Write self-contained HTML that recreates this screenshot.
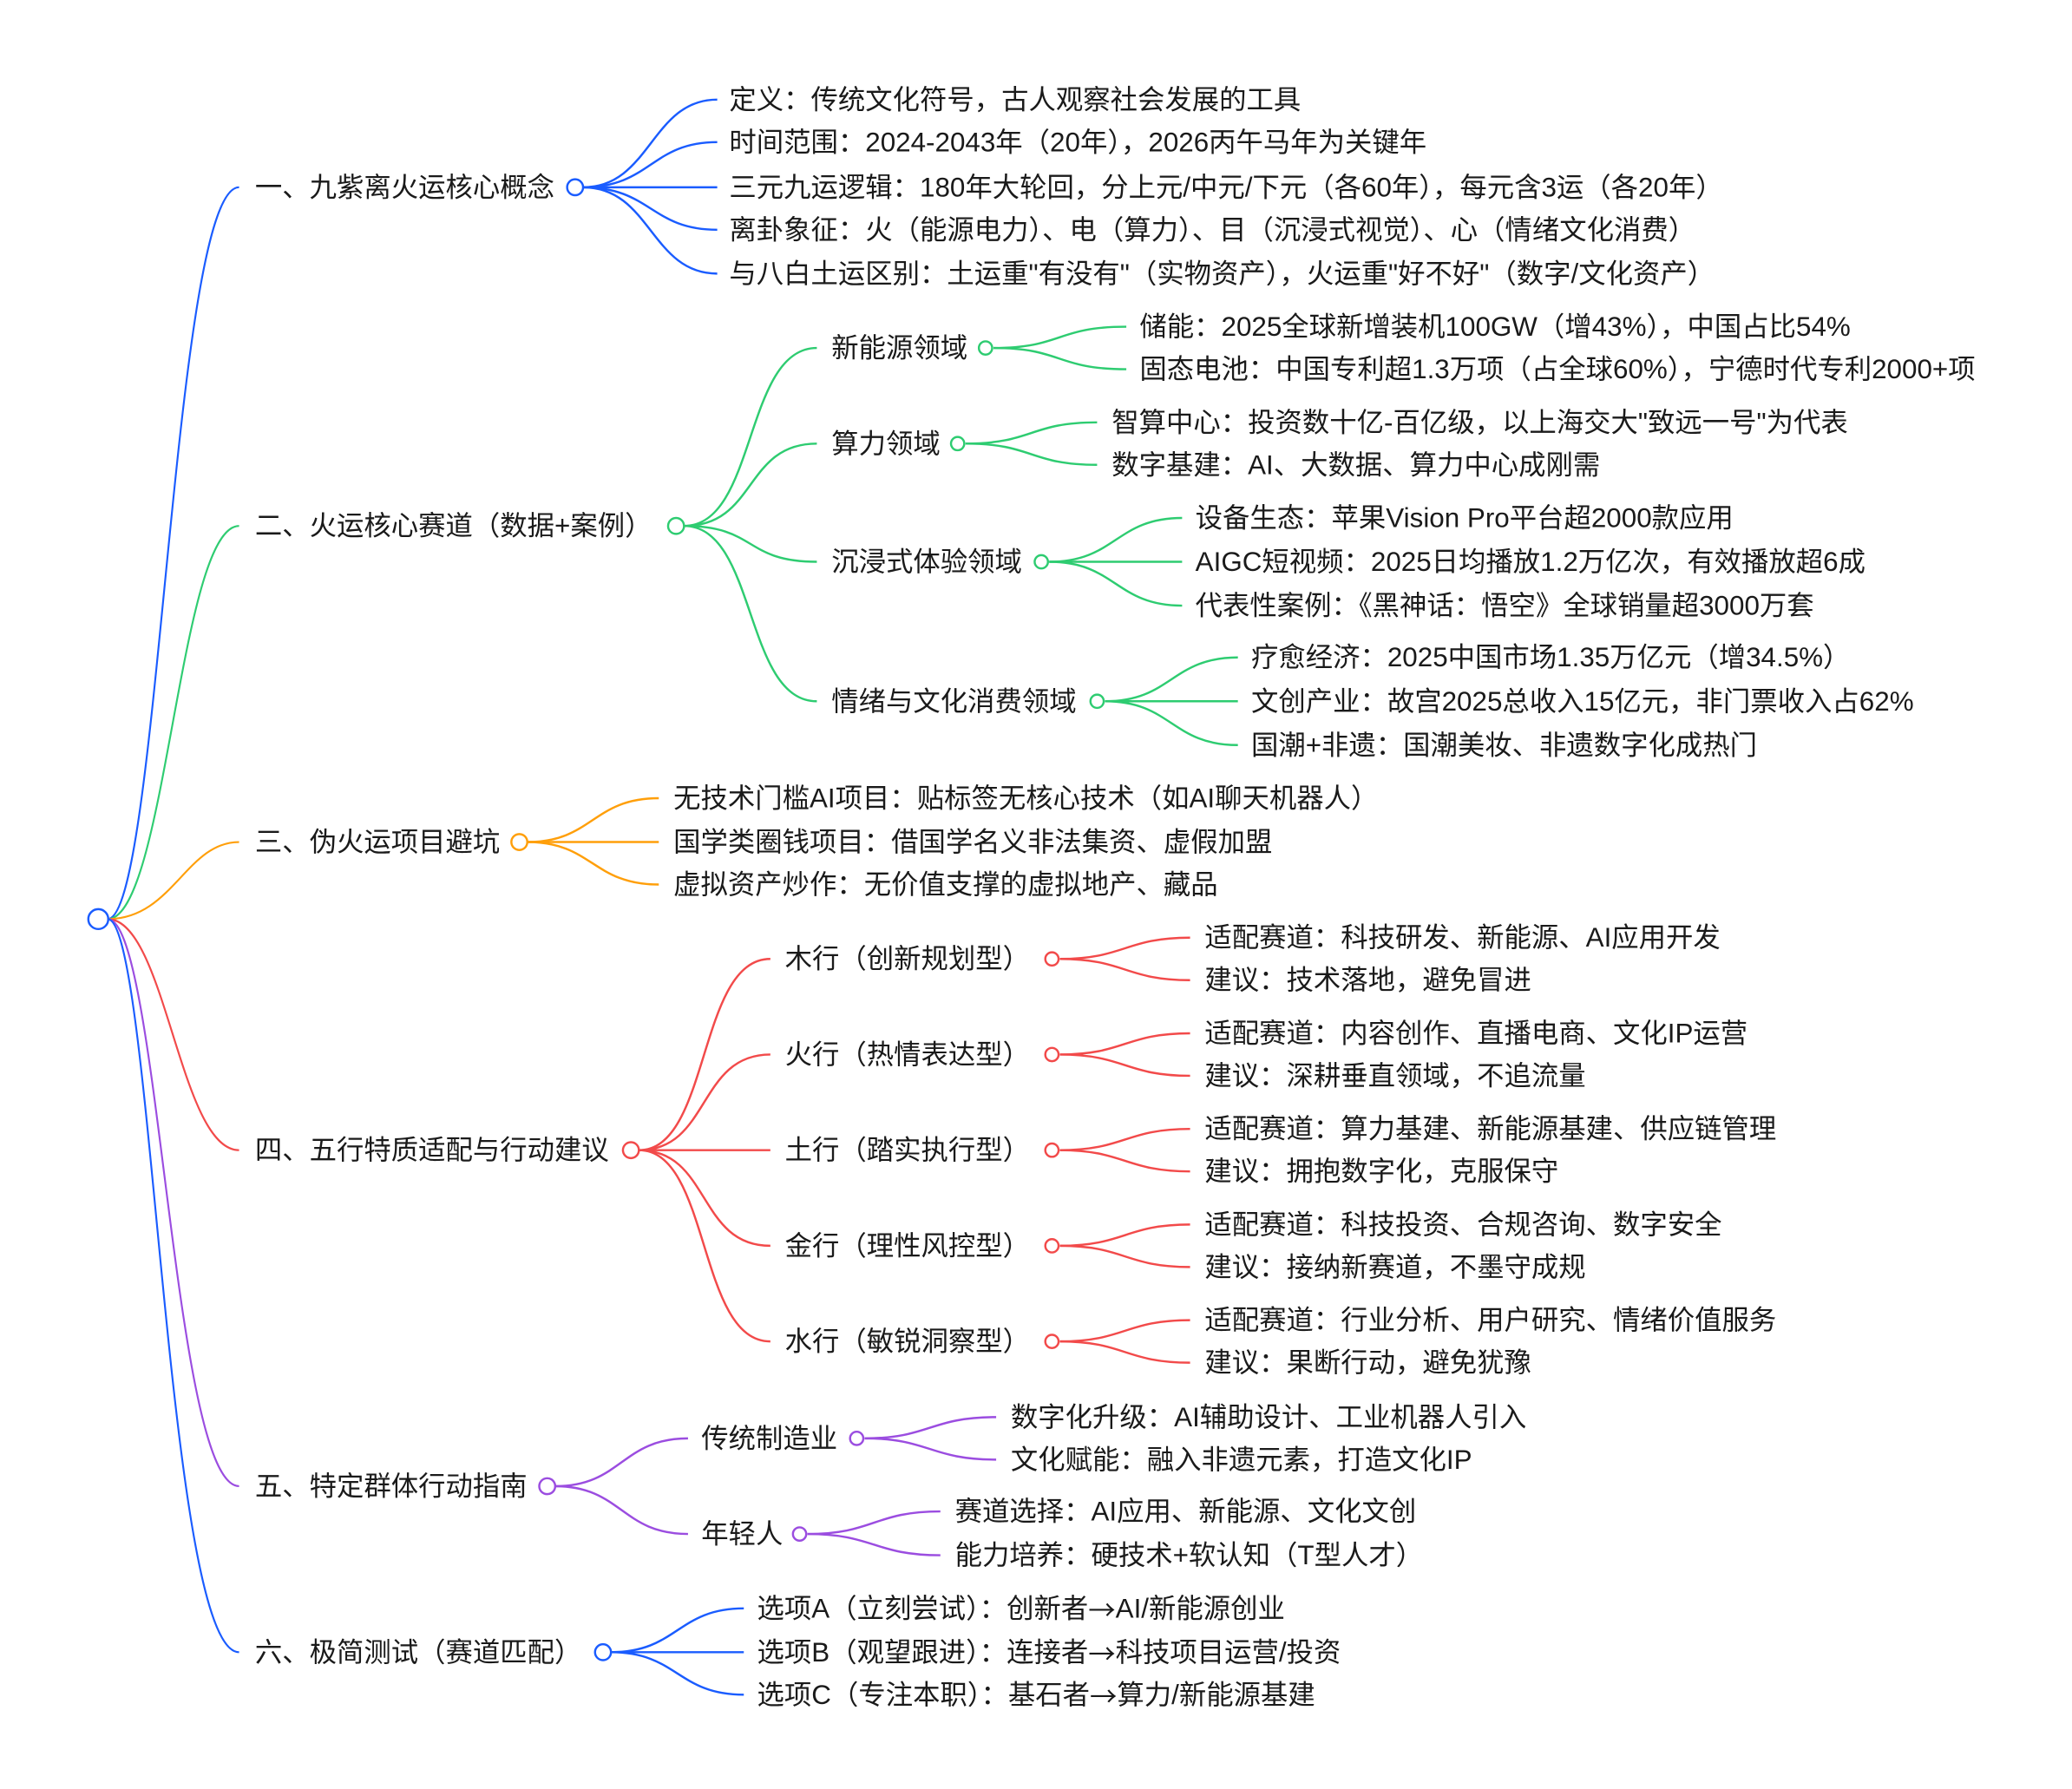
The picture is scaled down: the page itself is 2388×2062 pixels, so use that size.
<!DOCTYPE html>
<html><head><meta charset="utf-8"><style>
html,body{margin:0;padding:0;background:#fff;}
svg{display:block}
text{font-family:"Liberation Sans","Noto Sans CJK SC",sans-serif;font-size:20.5px;fill:#1a1a1a;dominant-baseline:central}
.ar{font-family:"Noto Sans CJK SC",sans-serif}
path{fill:none}
circle{fill:#fff;stroke-width:1.6}
</style></head><body>
<svg width="2388" height="2062" viewBox="0 0 1560 1347" preserveAspectRatio="none" xmlns="http://www.w3.org/2000/svg">
<rect width="1560" height="1347" fill="#fff"/>
<g stroke-width="1.4">
<path stroke="#1a5cff" d="M81,692 C120,692 130,141 180,141"/>
<path stroke="#2ecc71" d="M81,692 C125,692 135,396 180,396"/>
<path stroke="#ff9f0a" d="M81,692 C130,692 140,634 180,634"/>
<path stroke="#f24a4a" d="M81,692 C125,692 135,866 180,866"/>
<path stroke="#9b4de0" d="M81,692 C120,692 130,1119 180,1119"/>
<path stroke="#1a5cff" d="M81,692 C115,692 125,1244 180,1244"/>
</g>
<circle cx="74" cy="692" r="7.5" stroke="#1a5cff" stroke-width="2"/>

<g stroke="#1a5cff" stroke-width="1.6">
<path d="M439,141 C490,141 490,75 540,75"/>
<path d="M439,141 C490,141 490,107 540,107"/>
<path d="M439,141 L540,141"/>
<path d="M439,141 C490,141 490,173 540,173"/>
<path d="M439,141 C490,141 490,206 540,206"/>
</g>
<circle cx="433" cy="141" r="6" stroke="#1a5cff"/>
<text x="192" y="141">一、九紫离火运核心概念</text>
<text x="549" y="75">定义：传统文化符号，古人观察社会发展的工具</text>
<text x="549" y="107">时间范围：2024-2043年（20年），2026丙午马年为关键年</text>
<text x="549" y="141">三元九运逻辑：180年大轮回，分上元/中元/下元（各60年），每元含3运（各20年）</text>
<text x="549" y="173">离卦象征：火（能源电力）、电（算力）、目（沉浸式视觉）、心（情绪文化消费）</text>
<text x="549" y="206">与八白土运区别：土运重"有没有"（实物资产），火运重"好不好"（数字/文化资产）</text>

<g stroke="#2ecc71" stroke-width="1.6">
<path d="M515,396 C570,396 560,262 615,262"/>
<path d="M515,396 C570,396 560,334 615,334"/>
<path d="M515,396 C570,396 560,423 615,423"/>
<path d="M515,396 C570,396 560,528 615,528"/>
<path d="M748,262 C800,262 795,246 848,246"/>
<path d="M748,262 C800,262 795,278 848,278"/>
<path d="M727,334 C778,334 775,318 826,318"/>
<path d="M727,334 C778,334 775,350 826,350"/>
<path d="M790,423 C840,423 840,390 890,390"/>
<path d="M790,423 L890,423"/>
<path d="M790,423 C840,423 840,456 890,456"/>
<path d="M832,528 C882,528 882,495 932,495"/>
<path d="M832,528 L932,528"/>
<path d="M832,528 C882,528 882,561 932,561"/>
</g>
<circle cx="509" cy="396" r="6" stroke="#2ecc71"/>
<circle cx="742" cy="262" r="5" stroke="#2ecc71"/>
<circle cx="721" cy="334" r="5" stroke="#2ecc71"/>
<circle cx="784" cy="423" r="5" stroke="#2ecc71"/>
<circle cx="826" cy="528" r="5" stroke="#2ecc71"/>
<text x="192" y="396">二、火运核心赛道（数据+案例）</text>
<text x="626" y="262">新能源领域</text>
<text x="626" y="334">算力领域</text>
<text x="626" y="423">沉浸式体验领域</text>
<text x="626" y="528">情绪与文化消费领域</text>
<text x="858" y="246">储能：2025全球新增装机100GW（增43%），中国占比54%</text>
<text x="858" y="278">固态电池：中国专利超1.3万项（占全球60%），宁德时代专利2000+项</text>
<text x="837" y="318">智算中心：投资数十亿-百亿级，以上海交大"致远一号"为代表</text>
<text x="837" y="350">数字基建：AI、大数据、算力中心成刚需</text>
<text x="900" y="390">设备生态：苹果Vision Pro平台超2000款应用</text>
<text x="900" y="423">AIGC短视频：2025日均播放1.2万亿次，有效播放超6成</text>
<text x="900" y="456">代表性案例：《黑神话：悟空》全球销量超3000万套</text>
<text x="942" y="495">疗愈经济：2025中国市场1.35万亿元（增34.5%）</text>
<text x="942" y="528">文创产业：故宫2025总收入15亿元，非门票收入占62%</text>
<text x="942" y="561">国潮+非遗：国潮美妆、非遗数字化成热门</text>

<g stroke="#ff9f0a" stroke-width="1.6">
<path d="M397,634 C446,634 446,601 496,601"/>
<path d="M397,634 L496,634"/>
<path d="M397,634 C446,634 446,666 496,666"/>
</g>
<circle cx="391" cy="634" r="6" stroke="#ff9f0a"/>
<text x="192" y="634">三、伪火运项目避坑</text>
<text x="507" y="601">无技术门槛AI项目：贴标签无核心技术（如AI聊天机器人）</text>
<text x="507" y="634">国学类圈钱项目：借国学名义非法集资、虚假加盟</text>
<text x="507" y="666">虚拟资产炒作：无价值支撑的虚拟地产、藏品</text>

<g stroke="#f24a4a" stroke-width="1.6">
<path d="M481,866 C535,866 525,722 580,722"/>
<path d="M481,866 C535,866 525,794 580,794"/>
<path d="M481,866 L580,866"/>
<path d="M481,866 C535,866 525,938 580,938"/>
<path d="M481,866 C535,866 525,1010 580,1010"/>
<path d="M798,722 C847,722 847,706 896,706"/><path d="M798,722 C847,722 847,738 896,738"/>
<path d="M798,794 C847,794 847,778 896,778"/><path d="M798,794 C847,794 847,810 896,810"/>
<path d="M798,866 C847,866 847,850 896,850"/><path d="M798,866 C847,866 847,882 896,882"/>
<path d="M798,938 C847,938 847,922 896,922"/><path d="M798,938 C847,938 847,954 896,954"/>
<path d="M798,1010 C847,1010 847,994 896,994"/><path d="M798,1010 C847,1010 847,1026 896,1026"/>
</g>
<circle cx="475" cy="866" r="6" stroke="#f24a4a"/>
<circle cx="792" cy="722" r="5" stroke="#f24a4a"/>
<circle cx="792" cy="794" r="5" stroke="#f24a4a"/>
<circle cx="792" cy="866" r="5" stroke="#f24a4a"/>
<circle cx="792" cy="938" r="5" stroke="#f24a4a"/>
<circle cx="792" cy="1010" r="5" stroke="#f24a4a"/>
<text x="192" y="866">四、五行特质适配与行动建议</text>
<text x="591" y="722">木行（创新规划型）</text>
<text x="591" y="794">火行（热情表达型）</text>
<text x="591" y="866">土行（踏实执行型）</text>
<text x="591" y="938">金行（理性风控型）</text>
<text x="591" y="1010">水行（敏锐洞察型）</text>
<text x="907" y="706">适配赛道：科技研发、新能源、AI应用开发</text>
<text x="907" y="738">建议：技术落地，避免冒进</text>
<text x="907" y="778">适配赛道：内容创作、直播电商、文化IP运营</text>
<text x="907" y="810">建议：深耕垂直领域，不追流量</text>
<text x="907" y="850">适配赛道：算力基建、新能源基建、供应链管理</text>
<text x="907" y="882">建议：拥抱数字化，克服保守</text>
<text x="907" y="922">适配赛道：科技投资、合规咨询、数字安全</text>
<text x="907" y="954">建议：接纳新赛道，不墨守成规</text>
<text x="907" y="994">适配赛道：行业分析、用户研究、情绪价值服务</text>
<text x="907" y="1026">建议：果断行动，避免犹豫</text>

<g stroke="#9b4de0" stroke-width="1.6">
<path d="M418,1119 C468,1119 468,1083 518,1083"/>
<path d="M418,1119 C468,1119 468,1155 518,1155"/>
<path d="M651,1083 C700,1083 700,1067 750,1067"/>
<path d="M651,1083 C700,1083 700,1099 750,1099"/>
<path d="M608,1155 C658,1155 658,1138 708,1138"/>
<path d="M608,1155 C658,1155 658,1171 708,1171"/>
</g>
<circle cx="412" cy="1119" r="6" stroke="#9b4de0"/>
<circle cx="645" cy="1083" r="5" stroke="#9b4de0"/>
<circle cx="602" cy="1155" r="5" stroke="#9b4de0"/>
<text x="192" y="1119">五、特定群体行动指南</text>
<text x="528" y="1083">传统制造业</text>
<text x="528" y="1155">年轻人</text>
<text x="761" y="1067">数字化升级：AI辅助设计、工业机器人引入</text>
<text x="761" y="1099">文化赋能：融入非遗元素，打造文化IP</text>
<text x="719" y="1138">赛道选择：AI应用、新能源、文化文创</text>
<text x="719" y="1171">能力培养：硬技术+软认知（T型人才）</text>

<g stroke="#1a5cff" stroke-width="1.6">
<path d="M460,1244 C510,1244 510,1211 560,1211"/>
<path d="M460,1244 L560,1244"/>
<path d="M460,1244 C510,1244 510,1276 560,1276"/>
</g>
<circle cx="454" cy="1244" r="6" stroke="#1a5cff"/>
<text x="192" y="1244">六、极简测试（赛道匹配）</text>
<text x="570" y="1211">选项A（立刻尝试）：创新者<tspan class="ar">→</tspan>AI/新能源创业</text>
<text x="570" y="1244">选项B（观望跟进）：连接者<tspan class="ar">→</tspan>科技项目运营/投资</text>
<text x="570" y="1276">选项C（专注本职）：基石者<tspan class="ar">→</tspan>算力/新能源基建</text>
</svg>
</body></html>
